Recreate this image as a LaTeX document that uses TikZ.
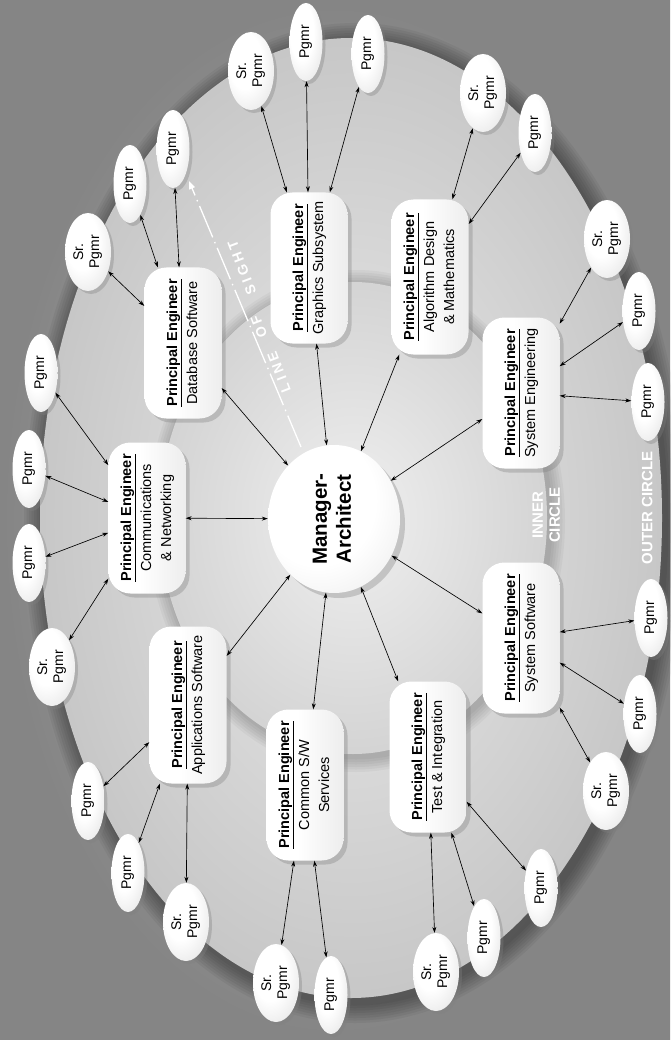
\documentclass[tikz,border=0pt]{standalone}
\usepackage{fontspec}
\usepackage{graphicx}
\setmainfont{Liberation Sans}
\usetikzlibrary{shapes.geometric,arrows.meta,shadows}
\newcommand{\rtxt}[1]{\rotatebox{90}{\begin{tabular}{@{}c@{}}#1\end{tabular}}}
\newcommand{\pen}[1]{\rtxt{\textbf{\underline{Principal Engineer}}\\#1}}
\newcommand{\lk}{\kern3.5pt}
\pgfdeclarehorizontalshading{peshade}{100bp}{color(0bp)=(white); color(45bp)=(white); color(75bp)=(black!7); color(100bp)=(black!30)}
\pgfdeclareradialshading{pgshade}{\pgfpoint{-8bp}{8bp}}{color(0bp)=(white); color(18bp)=(white); color(38bp)=(black!10); color(55bp)=(black!30); color(100bp)=(black!30)}
\pgfdeclareradialshading{mgshade}{\pgfpoint{-8bp}{8bp}}{color(0bp)=(white); color(22bp)=(white); color(42bp)=(black!8); color(58bp)=(black!25); color(100bp)=(black!25)}
\begin{document}
\begin{tikzpicture}[x=1pt,y=-1pt,
  >={Stealth[length=6pt,width=4pt]},
  conn/.style={<->, line width=0.65pt, black},
  pebox/.style={rectangle, rounded corners=22pt, minimum width=77pt, minimum height=151pt,
    inner sep=1pt, font=\fontsize{14.5}{20}\selectfont,
    shading=peshade,
    drop shadow={opacity=0.35, shadow xshift=4pt, shadow yshift=-4pt}},
  pg/.style={ellipse, minimum width=33pt, minimum height=78pt, inner sep=0pt,
    font=\fontsize{14}{16}\selectfont,
    shading=pgshade,
    drop shadow={opacity=0.35, shadow xshift=3pt, shadow yshift=-3pt}},
  spg/.style={pg, minimum width=46pt},
  mgr/.style={ellipse, minimum width=132pt, minimum height=148pt, inner sep=0pt,
    font=\fontsize{20.5}{24}\selectfont\bfseries,
    shading=mgshade,
    drop shadow={opacity=0.35, shadow xshift=5pt, shadow yshift=-5pt}},
  wlabel/.style={font=\fontsize{15}{17}\selectfont\bfseries, text=white, inner sep=0pt},
  loslabel/.style={font=\fontsize{14}{14}\selectfont\bfseries, text=white, inner sep=0pt, rotate=111}
]
\useasboundingbox (0,0) rectangle (670,1040);
% background
\shade[inner color=black!30, outer color=black!48] (0,0) rectangle (670,1040);
% outer circle halo
\foreach \i in {1,...,8}
  \fill[black, opacity=0.05] (355,523) ellipse ({311+\i*2.5} and {480+\i*2.5});
\shade[inner color=black!8, outer color=black!22] (351,518) ellipse (311 and 480);
% inner circle halo
\foreach \i in {1,...,6}
  \fill[black, opacity=0.035] (356,521) ellipse ({194+\i*2.5} and {236+\i*2.5});
\shade[inner color=black!6, outer color=black!17] (353,518) ellipse (194 and 236);

% line of sight
\coordinate (los1) at (301,447);
\coordinate (los2) at (189,181);
\draw[white, line width=1.3pt, dash pattern=on 34pt off 5pt on 1.5pt off 5pt,
  -{Triangle[length=8pt,width=6pt]}] (los1) -- (los2);
\node[loslabel] (losA) at (279,372) {L\lk I\lk N\lk E};
\node[loslabel] (losB) at (259,327) {O\lk F};
\node[loslabel] (losC) at (242,268) {S\lk I\lk G\lk H\lk T};

% manager
\node[mgr] (M) at (334,519) {\rtxt{Manager-\\Architect}};

% principal engineers
\node[pebox] (DB) at (183,343) {\pen{Database Software}};
\node[pebox] (GR) at (309,268) {\pen{Graphics Subsystem}};
\node[pebox, minimum height=155pt] (AL) at (430,277) {\pen{Algorithm Design\\\& Mathematics}};
\node[pebox] (SE) at (521,393) {\pen{System Engineering}};
\node[pebox] (CO) at (147,518) {\pen{Communications\\\& Networking}};
\node[pebox, minimum height=157pt] (AP) at (188,705) {\pen{Applications Software}};
\node[pebox] (CS) at (305,785) {\pen{Common S/W\\Services}};
\node[pebox] (TI) at (428,757) {\pen{Test \& Integration}};
\node[pebox] (SS) at (521,638) {\pen{System Software}};

% programmers
\node[spg] (a) at (88,252) {\rtxt{Sr.\\Pgmr}};
\node[pg]  (b) at (130,184) {\rtxt{Pgmr}};
\node[pg]  (c) at (173,149) {\rtxt{Pgmr}};
\node[spg] (d) at (251,71) {\rtxt{Sr.\\Pgmr}};
\node[pg]  (e) at (306,42) {\rtxt{Pgmr}};
\node[pg]  (f) at (368,54) {\rtxt{Pgmr}};
\node[spg] (g) at (483,93) {\rtxt{Sr.\\Pgmr}};
\node[pg]  (h) at (535,133) {\rtxt{Pgmr}};
\node[spg] (i) at (607,239) {\rtxt{Sr.\\Pgmr}};
\node[pg]  (j) at (639,311) {\rtxt{Pgmr}};
\node[pg]  (k) at (648,402) {\rtxt{Pgmr}};
\node[pg]  (l) at (41,373) {\rtxt{Pgmr}};
\node[pg]  (m) at (29,469) {\rtxt{Pgmr}};
\node[pg]  (n) at (29,563) {\rtxt{Pgmr}};
\node[spg] (o) at (52,667) {\rtxt{Sr.\\Pgmr}};
\node[pg]  (p) at (88,801) {\rtxt{Pgmr}};
\node[pg]  (q) at (128,873) {\rtxt{Pgmr}};
\node[spg] (r) at (186,922) {\rtxt{Sr.\\Pgmr}};
\node[spg] (s) at (276,983) {\rtxt{Sr.\\Pgmr}};
\node[pg]  (t) at (331,995) {\rtxt{Pgmr}};
\node[spg] (u) at (436,972) {\rtxt{Sr.\\Pgmr}};
\node[pg]  (v) at (484,938) {\rtxt{Pgmr}};
\node[pg]  (w) at (541,888) {\rtxt{Pgmr}};
\node[spg] (x) at (606,791) {\rtxt{Sr.\\Pgmr}};
\node[pg]  (y) at (640,714) {\rtxt{Pgmr}};
\node[pg]  (z) at (651,618) {\rtxt{Pgmr}};

% labels
\node[wlabel] (inner) at (548,515) {\rtxt{INNER\\CIRCLE}};
\node[wlabel] (outer) at (649,508) {\rtxt{OUTER CIRCLE}};

% connectors
\foreach \b in {DB,GR,AL,SE,CO,AP,CS,TI,SS}
  \draw[conn] (M) -- (\b);
\foreach \b/\p in {DB/a,DB/b,DB/c,GR/d,GR/e,GR/f,AL/g,AL/h,SE/i,SE/j,SE/k,
  CO/l,CO/m,CO/n,CO/o,AP/p,AP/q,AP/r,CS/s,CS/t,TI/u,TI/v,TI/w,SS/x,SS/y,SS/z}
  \draw[conn] (\b) -- (\p);
\end{tikzpicture}
\end{document}
